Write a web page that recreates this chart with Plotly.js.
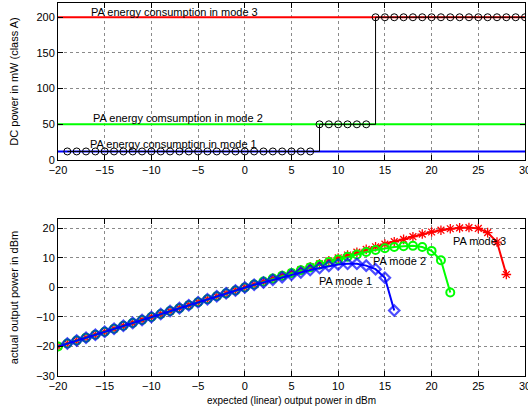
<!DOCTYPE html>
<html>
<head>
<meta charset="utf-8">
<script src="https://cdn.plot.ly/plotly-3.0.1.min.js"></script>
<style>html,body{margin:0;padding:0;background:#fff;}#chart{width:528px;height:414px;}</style>
</head>
<body>
<div id="chart"></div>
<script>
// ---- top plot data ----
const dcLevelX = [-20, 30];
const dcMode1 = [12, 12];
const dcMode2 = [50, 50];
const dcMode3 = [200, 200];
const stepX = [-19,-18,-17,-16,-15,-14,-13,-12,-11,-10,-9,-8,-7,-6,-5,-4,-3,-2,-1,0,1,2,3,4,5,6,7,8,9,10,11,12,13,14,15,16,17,18,19,20,21,22,23,24,25,26,27,28,29,30];
const stepY = [12,12,12,12,12,12,12,12,12,12,12,12,12,12,12,12,12,12,12,12,12,12,12,12,12,12,12,50,50,50,50,50,50,200,200,200,200,200,200,200,200,200,200,200,200,200,200,200,200,200];

// ---- bottom plot data ----
const mode1X = [-20,-19,-18,-17,-16,-15,-14,-13,-12,-11,-10,-9,-8,-7,-6,-5,-4,-3,-2,-1,0,1,2,3,4,5,6,7,8,9,10,11,12,13,14,15,16];
const mode1Y = [-20,-19,-18,-17,-16,-15,-14,-13,-12,-11,-10,-9,-8,-7,-6,-5,-4,-3,-2,-1,0,0.9,1.7,2.6,3.5,4.3,5.1,5.9,6.6,7.3,7.8,8.0,8.0,7.4,6.2,3.3,-7.8];
const mode2X = [-20,-19,-18,-17,-16,-15,-14,-13,-12,-11,-10,-9,-8,-7,-6,-5,-4,-3,-2,-1,0,1,2,3,4,5,6,7,8,9,10,11,12,13,14,15,16,17,18,19,20,21,22];
const mode2Y = [-20,-19,-18,-17,-16,-15,-14,-13,-12,-11,-10,-9,-8,-7,-6,-5,-4,-3,-2,-1,0,1,2,3,3.95,4.9,5.85,6.8,7.7,8.6,9.5,10.4,11.2,12.0,12.7,13.3,13.7,14.0,14.1,13.7,12.4,9.2,-1.7];
const mode3X = [-20,-19,-18,-17,-16,-15,-14,-13,-12,-11,-10,-9,-8,-7,-6,-5,-4,-3,-2,-1,0,1,2,3,4,5,6,7,8,9,10,11,12,13,14,15,16,17,18,19,20,21,22,23,24,25,26,27,28];
const mode3Y = [-20,-19,-18,-17,-16,-15,-14,-13,-12,-11,-10,-9,-8,-7,-6,-5,-4,-3,-2,-1,0,1,2,3,4,5,6,7,8,9,10,11,11.95,12.9,13.8,14.7,15.5,16.3,17.2,18.1,18.8,19.4,19.9,20.2,20.3,20.0,18.6,15.4,4.4];

const topXTicks = [-20,-15,-10,-5,0,5,10,15,20,25,30];
const topYTicks = [0,50,100,150,200];
const botYTicks = [-30,-20,-10,0,10,20];

const FONT = 'Liberation Sans, Arial, sans-serif';
const axisBase = {
  showline: true, linecolor: '#000', linewidth: 1, mirror: 'ticks',
  ticks: 'inside', ticklen: 5, tickcolor: '#000',
  showgrid: true, gridcolor: '#8a8a8a', griddash: 'dot', gridwidth: 1,
  zeroline: false, tickfont: {family: FONT, size: 11, color: '#000'},
  tickmode: 'array', ticklabeloverflow: 'allow'
};

const traces = [
  {x: dcLevelX, y: dcMode3, xaxis: 'x', yaxis: 'y', mode: 'lines', line: {color: '#ff0000', width: 2}},
  {x: dcLevelX, y: dcMode2, xaxis: 'x', yaxis: 'y', mode: 'lines', line: {color: '#00ff00', width: 2}},
  {x: dcLevelX, y: dcMode1, xaxis: 'x', yaxis: 'y', mode: 'lines', line: {color: '#0000ff', width: 2}},
  {x: stepX, y: stepY, xaxis: 'x', yaxis: 'y', mode: 'lines+markers', line: {color: '#000', width: 1, shape: 'hv'},
   marker: {symbol: 'circle-open', size: 7, color: '#000', line: {width: 1, color: '#000'}}},
  {x: mode3X, y: mode3Y, xaxis: 'x2', yaxis: 'y2', mode: 'lines+markers', line: {color: '#ff0000', width: 2},
   marker: {symbol: 'asterisk-open', size: 8, color: '#ff0000', line: {width: 1.3, color: '#ff0000'}}},
  {x: mode2X, y: mode2Y, xaxis: 'x2', yaxis: 'y2', mode: 'lines+markers', line: {color: '#00ff00', width: 2},
   marker: {symbol: 'circle-open', size: 8, color: '#00ff00', line: {width: 2, color: '#00ff00'}}},
  {x: mode1X, y: mode1Y, xaxis: 'x2', yaxis: 'y2', mode: 'lines+markers', line: {color: '#0000ff', width: 2},
   marker: {symbol: 'diamond-open', size: mode1X.map((v, i) => i === 0 ? 0 : 8), color: '#0000ff', line: {width: 2.2, color: '#0000ff'}}}
];

const annFont = {family: FONT, size: 11, color: '#000'};
const layout = {
  width: 528, height: 414,
  margin: {l: 58, r: 3, t: 0, b: 0},
  paper_bgcolor: '#fff', plot_bgcolor: '#fff',
  showlegend: false,
  xaxis: Object.assign({}, axisBase, {domain: [0, 1], range: [-20, 30], tickvals: topXTicks, anchor: 'y'}),
  yaxis: Object.assign({}, axisBase, {domain: [0.6135, 0.9928], range: [0, 220], tickvals: topYTicks, anchor: 'x',
    title: {text: 'DC power in mW (class A)', font: {family: FONT, size: 11, color: '#000'}, standoff: 15}}),
  xaxis2: Object.assign({}, axisBase, {domain: [0, 1], range: [-20, 30], tickvals: topXTicks, anchor: 'y2',
    title: {text: 'expected (linear) output power in dBm', font: {family: FONT, size: 10, color: '#000'}, standoff: 5}}),
  yaxis2: Object.assign({}, axisBase, {domain: [0.0918, 0.471], range: [-30, 23.2], tickvals: botYTicks, anchor: 'x2',
    title: {text: 'actual output power in dBm', font: {family: FONT, size: 11, color: '#000'}, standoff: 15}}),
  annotations: [
    {xref: 'x', yref: 'y', x: -16.7, y: 208, text: 'PA energy consumption in mode 3', showarrow: false, xanchor: 'left', yanchor: 'middle', font: annFont},
    {xref: 'x', yref: 'y', x: -16.5, y: 59, text: 'PA energy comsumption in mode 2', showarrow: false, xanchor: 'left', yanchor: 'middle', font: annFont},
    {xref: 'x', yref: 'y', x: -16.8, y: 23, text: 'PA energy consumption in mode 1', showarrow: false, xanchor: 'left', yanchor: 'middle', font: annFont},
    {xref: 'x2', yref: 'y2', x: 7.7, y: 2.1, text: 'PA mode 1', showarrow: false, xanchor: 'left', yanchor: 'middle', font: annFont},
    {xref: 'x2', yref: 'y2', x: 13.5, y: 8.9, text: 'PA mode 2', showarrow: false, xanchor: 'left', yanchor: 'middle', font: annFont},
    {xref: 'x2', yref: 'y2', x: 22.05, y: 15.8, text: 'PA mode 3', showarrow: false, xanchor: 'left', yanchor: 'middle', font: annFont}
  ]
};

Plotly.newPlot('chart', traces, layout, {staticPlot: true, displayModeBar: false});
</script>
</body>
</html>
